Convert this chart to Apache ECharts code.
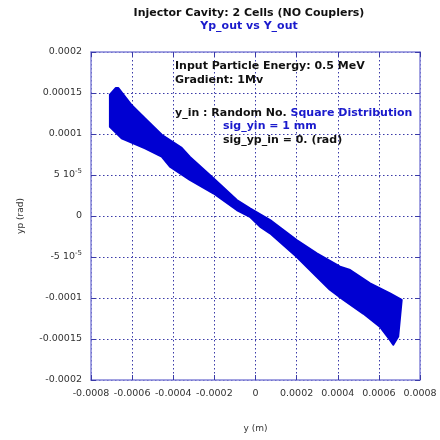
<!DOCTYPE html>
<html>
<head>
<meta charset="utf-8">
<script src="https://cdn.jsdelivr.net/npm/echarts@6/dist/echarts.min.js"></script>
<style>
  html, body { margin: 0; padding: 0; background: #fff; }
  #main { width: 440px; height: 440px; }
</style>
</head>
<body>
<div id="main"></div>
<script>
// outline of the particle cloud
// upper edge, left to right
var upperY  = [-0.000708, -0.000680, -0.000667, -0.000602, -0.000537, -0.000456, -0.000359, -0.000319, -0.000205, -0.000091, -0.000027, 0.000071, 0.000200, 0.000298, 0.000411, 0.000460, 0.000557, 0.000654, 0.000711];
var upperYp = [0.000148, 0.000156, 0.000156, 0.000135, 0.000119, 0.000099, 0.000083, 0.000072, 0.000046, 0.0000195, 0.0000094, -0.0000049, -0.0000293, -0.0000455, -0.0000618, -0.0000659, -0.0000821, -0.0000943, -0.0001024];
// lower edge, right to left
var lowerY  = [0.000694, 0.000670, 0.000654, 0.000605, 0.000524, 0.000427, 0.000362, 0.000298, 0.000200, 0.000071, 0.000022, -0.000027, -0.000091, -0.000205, -0.000319, -0.000416, -0.000456, -0.000537, -0.000651, -0.000708];
var lowerYp = [-0.000147, -0.000157, -0.000151, -0.000135, -0.000119, -0.000102, -0.000090, -0.000074, -0.0000496, -0.0000211, -0.000013, -0.0000009, 0.0000073, 0.0000277, 0.0000439, 0.0000601, 0.0000723, 0.0000826, 0.0000948, 0.0001089];

var yTickLabels = {
    '0.0002': '0.0002', '0.00015': '0.00015', '0.0001': '0.0001', '0.00005': '5 10{sup|-5}', '0': '0',
    '-0.00005': '-5 10{sup|-5}', '-0.0001': '-0.0001', '-0.00015': '-0.00015', '-0.0002': '-0.0002'
};

var outline = [];
for (var i = 0; i < upperY.length; i++) outline.push([upperY[i], upperYp[i]]);
for (var j = 0; j < lowerY.length; j++) outline.push([lowerY[j], lowerYp[j]]);

var font = 'DejaVu Sans';
var axisBlue = '#8484d8';
var gridBlue = '#3a3aa8';
var cloud = '#0000d2';
var textBlue = '#1a1acc';

var chart = echarts.init(document.getElementById('main'));

function frameAxis(pos) {
    return {
        type: 'value', position: pos,
        min: pos == 'top' ? -0.0008 : -0.0002,
        max: pos == 'top' ? 0.0008 : 0.0002,
        interval: pos == 'top' ? 0.0002 : 0.00005,
        axisLine: { show: true, onZero: false, lineStyle: { color: axisBlue, width: 1.5 } },
        axisTick: { show: true, inside: true, length: 5, lineStyle: { color: gridBlue } },
        axisLabel: { show: false },
        splitLine: { show: false }
    };
}

chart.setOption({
    animation: false,
    grid: { left: 91, right: 20, top: 52, bottom: 60 },
    xAxis: [{
        type: 'value',
        min: -0.0008, max: 0.0008, interval: 0.0002,
        name: 'y (m)', nameLocation: 'middle', nameGap: 44,
        nameTextStyle: { fontFamily: font, fontSize: 9, color: '#333' },
        axisLine: { show: true, onZero: false, lineStyle: { color: axisBlue, width: 1.5 } },
        axisTick: { show: true, inside: true, length: 5, lineStyle: { color: gridBlue } },
        axisLabel: {
            fontFamily: font, fontSize: 9.5, color: '#333', margin: 9,
            showMinLabel: true, showMaxLabel: true,
            formatter: function (v) {
                var r = Math.round(v * 1e4) / 1e4;
                return r === 0 ? '0' : r.toFixed(4);
            }
        },
        splitLine: { show: true, lineStyle: { color: gridBlue, type: [1.5, 2.5], width: 1 } }
    }, frameAxis('top')],
    yAxis: [{
        type: 'value',
        min: -0.0002, max: 0.0002, interval: 0.00005,
        name: 'yp (rad)', nameLocation: 'middle', nameGap: 66, nameRotate: 90,
        nameTextStyle: { fontFamily: font, fontSize: 9, color: '#333' },
        axisLine: { show: true, onZero: false, lineStyle: { color: axisBlue, width: 1.5 } },
        axisTick: { show: true, inside: true, length: 5, lineStyle: { color: gridBlue } },
        axisLabel: {
            fontFamily: font, fontSize: 9.5, color: '#333', margin: 9,
            formatter: function (v) {
                var r = Math.round(v * 1e5) / 1e5;
                return yTickLabels[String(r)] || String(r);
            },
            rich: {
                sup: { fontFamily: font, fontSize: 7, color: '#333', padding: [0, 0, 7, 0] }
            }
        },
        splitLine: { show: true, lineStyle: { color: gridBlue, type: [1.5, 2.5], width: 1 } }
    }, frameAxis('right')],
    series: [{
        type: 'custom',
        name: 'Yp_out vs Y_out',
        data: [[0, 0]],
        renderItem: function (params, api) {
            var pts = outline.map(function (p) { return api.coord(p); });
            return {
                type: 'polygon',
                shape: { points: pts },
                style: { fill: cloud, stroke: cloud, lineWidth: 2, lineJoin: 'round' }
            };
        }
    }],
    graphic: [
        { type: 'text', x: 249, y: 13, style: { text: 'Injector Cavity: 2 Cells (NO Couplers)', font: 'bold 11px ' + font, fill: '#111', align: 'center', verticalAlign: 'middle' } },
        { type: 'text', x: 249, y: 26, style: { text: 'Yp_out vs Y_out', font: 'bold 11px ' + font, fill: textBlue, align: 'center', verticalAlign: 'middle' } },
        { type: 'text', x: 175, y: 66, z: 10, style: { text: 'Input Particle Energy: 0.5 MeV', font: 'bold 11px ' + font, fill: '#111', verticalAlign: 'middle' } },
        { type: 'text', x: 175, y: 80, z: 10, style: { text: 'Gradient: 1Mv', font: 'bold 11px ' + font, fill: '#111', verticalAlign: 'middle' } },
        { type: 'text', x: 175, y: 113, z: 10, style: {
            text: '{k|y_in : Random No. }{b|Square Distribution}', verticalAlign: 'middle',
            rich: {
                k: { fontFamily: font, fontWeight: 'bold', fontSize: 11, fill: '#111', color: '#111' },
                b: { fontFamily: font, fontWeight: 'bold', fontSize: 11, fill: textBlue, color: textBlue }
            }
        } },
        { type: 'text', x: 223, y: 126, z: 10, style: { text: 'sig_yin = 1 mm', font: 'bold 11px ' + font, fill: textBlue, verticalAlign: 'middle' } },
        { type: 'text', x: 223, y: 140, z: 10, style: { text: 'sig_yp_in = 0. (rad)', font: 'bold 11px ' + font, fill: '#111', verticalAlign: 'middle' } }
    ]
});
</script>
</body>
</html>
